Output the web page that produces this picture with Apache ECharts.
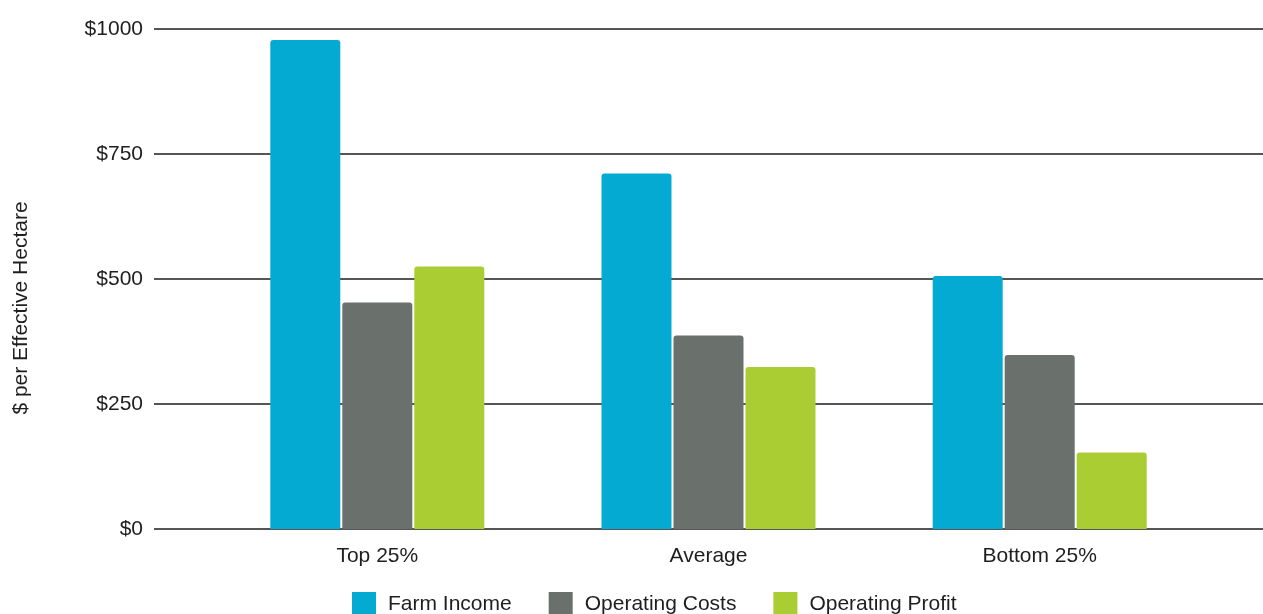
<!DOCTYPE html>
<html>
<head>
<meta charset="utf-8">
<title>Farm Income, Operating Costs and Operating Profit</title>
<script src="https://cdn.jsdelivr.net/npm/echarts@6/dist/echarts.min.js"></script>
<style>
  html, body { margin: 0; padding: 0; background: #ffffff; }
  #chart { width: 1263px; height: 614px; }
</style>
</head>
<body>
<div id="chart"></div>
<script>
// Groups and values ($ per effective hectare)
const categories = ['Top 25%', 'Average', 'Bottom 25%'];
const seriesNames = ['Farm Income', 'Operating Costs', 'Operating Profit'];
const farmIncome = [978, 711, 506];
const operatingCosts = [453, 387, 348];
const operatingProfit = [525, 324, 153];
const yTicks = [0, 250, 500, 750, 1000];

const FONT = 'Liberation Sans, Arial, sans-serif';
const TEXT = '#1e1e1e';
const colors = ['#05aad3', '#6a716d', '#abcd34'];

const chart = echarts.init(document.getElementById('chart'), null, { renderer: 'canvas' });

const barSeries = [farmIncome, operatingCosts, operatingProfit].map((values, i) => ({
  name: seriesNames[i],
  type: 'bar',
  xAxisIndex: 1,
  yAxisIndex: 1,
  data: values,
  barWidth: 70,
  barGap: '2.86%',
  itemStyle: { color: colors[i], borderRadius: [3, 3, 0, 0] },
  emphasis: { disabled: true }
}));

chart.setOption({
  backgroundColor: '#ffffff',
  animation: false,
  color: colors,
  textStyle: { fontFamily: FONT },
  grid: [
    // full-width grid carrying the value scale and horizontal rules
    { left: 154, right: 0, top: 29, height: 500 },
    // narrower grid where the grouped bars sit
    { left: 211.7, width: 993.6, top: 29, height: 500 }
  ],
  xAxis: [
    { gridIndex: 0, type: 'value', min: 0, max: 1, show: false },
    {
      gridIndex: 1,
      type: 'category',
      data: categories,
      axisLine: { show: false },
      axisTick: { show: false },
      axisLabel: { color: TEXT, fontSize: 21, fontFamily: FONT, margin: 17 }
    }
  ],
  yAxis: [
    {
      gridIndex: 0,
      type: 'value',
      min: yTicks[0],
      max: yTicks[yTicks.length - 1],
      interval: yTicks[1] - yTicks[0],
      axisLine: { show: false },
      axisTick: { show: false },
      axisLabel: {
        color: TEXT,
        fontSize: 21,
        fontFamily: FONT,
        margin: 11,
        formatter: v => '$' + v
      },
      splitLine: { show: true, lineStyle: { color: '#555555', width: 2 } }
    },
    {
      gridIndex: 1,
      type: 'value',
      min: yTicks[0],
      max: yTicks[yTicks.length - 1],
      show: false,
      splitLine: { show: false }
    }
  ],
  legend: {
    data: seriesNames,
    left: 352,
    top: 592,
    padding: 0,
    icon: 'rect',
    itemWidth: 24,
    itemHeight: 24,
    itemGap: 37,
    selectedMode: false,
    textStyle: { color: TEXT, fontSize: 21, fontFamily: FONT, padding: [0, 0, 0, 7] }
  },
  graphic: [
    {
      type: 'text',
      x: 21,
      y: 308,
      rotation: Math.PI / 2,
      style: {
        text: '$ per Effective Hectare',
        fill: TEXT,
        font: '21px ' + FONT,
        textAlign: 'center',
        textVerticalAlign: 'middle'
      }
    }
  ],
  series: barSeries
});
</script>
</body>
</html>
